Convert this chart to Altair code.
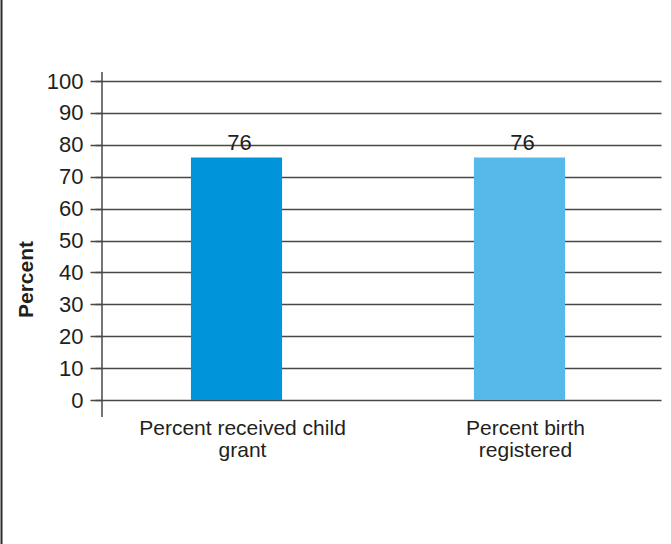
import altair as alt
import pandas as pd

# Survey indicators and their percentages
categories = ["Percent received child\ngrant", "Percent birth\nregistered"]
values = [76, 76]
bar_colors = ["#0095da", "#56b9ea"]
y_ticks = list(range(0, 101, 10))

FONT = "Liberation Sans"
INK = "#231f20"
LINE = "#4a4745"

df = pd.DataFrame({"category": categories, "value": values, "color": bar_colors})

W, H = 558, 319

x_scale = alt.Scale(range=[-7, 559], paddingInner=0.678, paddingOuter=0.339)
y_scale = alt.Scale(domain=[0, 100], nice=False)

x_enc = alt.X(
    "category:N",
    sort=None,
    scale=x_scale,
    axis=alt.Axis(
        title=None,
        domain=False,
        ticks=False,
        labelAngle=0,
        labelFont=FONT,
        labelFontSize=21,
        labelColor=INK,
        labelPadding=17,
        labelOffset=6,
        labelLineHeight=22,
        labelLimit=0,
        labelOverlap=False,
        labelExpr="split(datum.label, '\\n')",
    ),
)

y_enc = alt.Y(
    "value:Q",
    scale=y_scale,
    axis=alt.Axis(
        values=y_ticks,
        tickCount=11,
        domain=False,
        grid=True,
        gridColor=LINE,
        gridWidth=1.5,
        tickColor=LINE,
        tickWidth=1.5,
        tickSize=12,
        labelFont=FONT,
        labelFontSize=22,
        labelColor=INK,
        labelPadding=7,
        labelOverlap=False,
        title="Percent",
        titleFont=FONT,
        titleFontSize=21,
        titleFontWeight="bold",
        titleColor=INK,
        titleAngle=270,
        titleAlign="center",
        titleBaseline="alphabetic",
        titleX=-70,
        titleY=198,
    ),
)

base = alt.Chart(df)

bars = base.mark_bar().encode(
    x=x_enc,
    y=y_enc,
    color=alt.Color("color:N", scale=None),
)

labels = base.mark_text(
    font=FONT, fontSize=22, color=INK, baseline="alphabetic", dy=-8, dx=3
).encode(
    x=x_enc,
    y=y_enc,
    text=alt.Text("value:Q"),
)

one = pd.DataFrame({"k": [0]})

# vertical axis line, running a little past both ends of the scale
axis_line = alt.Chart(one).mark_rule(color=LINE, strokeWidth=1.5).encode(
    x=alt.value(0), y=alt.value(-9), y2=alt.value(H + 17)
)

# frame edge on the left side of the figure
frame_edge = alt.Chart(one).mark_rule(color="#2b2b2b", strokeWidth=2).encode(
    x=alt.value(-100.5), y=alt.value(-81), y2=alt.value(463)
)

chart = (
    alt.layer(bars, labels, axis_line, frame_edge)
    .properties(
        width=W,
        height=H,
        autosize=alt.AutoSizeParams(type="none"),
        padding={"left": 102, "top": 81, "right": 11, "bottom": 144},
        background="white",
    )
    .configure_view(stroke=None)
)

chart.save("out.html", embed_options={"renderer": "svg", "actions": False})
